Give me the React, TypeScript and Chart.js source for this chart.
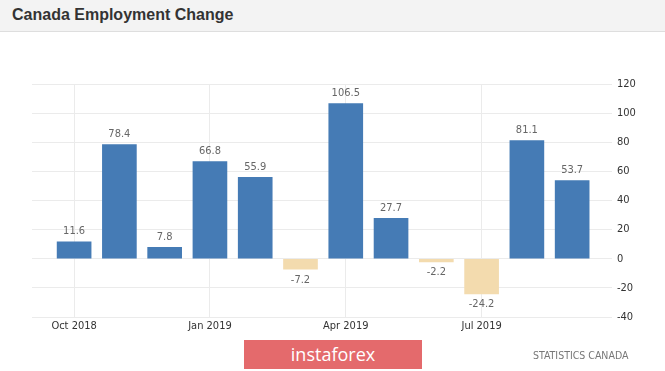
import React, { useEffect, useRef } from "react";
import { Chart, registerables } from "chart.js";

Chart.register(...registerables);

const months = [
  "Oct 2018", "Nov 2018", "Dec 2018", "Jan 2019", "Feb 2019", "Mar 2019",
  "Apr 2019", "May 2019", "Jun 2019", "Jul 2019", "Aug 2019", "Sep 2019",
];
const values = [11.6, 78.4, 7.8, 66.8, 55.9, -7.2, 106.5, 27.7, -2.2, -24.2, 81.1, 53.7];
const tickLabels = ["Oct 2018", "Jan 2019", "Apr 2019", "Jul 2019"];
const yTicks = [-40, -20, 0, 20, 40, 60, 80, 100, 120];

const NARROW = "'DejaVu Sans Condensed', 'Liberation Sans', sans-serif";

const valueLabelPlugin = {
  id: "valueLabels",
  afterDatasetsDraw(chart: any) {
    const ctx = chart.ctx;
    const meta = chart.getDatasetMeta(0);
    ctx.save();
    ctx.font = `11px ${NARROW}`;
    ctx.fillStyle = "#666";
    ctx.textAlign = "center";
    meta.data.forEach((el: any, i: number) => {
      const v = values[i];
      const txt = v.toFixed(1);
      if (v >= 0) {
        ctx.textBaseline = "bottom";
        ctx.fillText(txt, el.x, el.y - 5);
      } else {
        ctx.textBaseline = "top";
        ctx.fillText(txt, el.x, el.y + 5);
      }
    });
    ctx.restore();
  },
};

export default function App() {
  const ref = useRef<HTMLCanvasElement>(null);

  useEffect(() => {
    if (!ref.current) return;
    const tickIdx = tickLabels.map((l) => months.indexOf(l));
    const chart = new Chart(ref.current, {
      type: "bar",
      data: {
        datasets: [
          {
            data: values.map((v, i) => ({ x: i, y: v })),
            backgroundColor: values.map((v) => (v >= 0 ? "#457bb5" : "#f3dbae")),
            barThickness: 34,
            borderWidth: 0,
          },
        ],
      },
      options: {
        animation: false,
        responsive: false,
        maintainAspectRatio: false,
        layout: { padding: { left: 32, right: 0, top: 84, bottom: 34 } },
        plugins: {
          legend: { display: false },
          tooltip: { enabled: false },
        },
        scales: {
          x: {
            type: "linear",
            offset: false,
            min: -0.93,
            max: 11.88,
            afterBuildTicks: (scale: any) => {
              scale.ticks = tickIdx.map((v) => ({ value: v }));
            },
            afterFit: (scale: any) => {
              scale.height = 20;
            },
            ticks: {
              autoSkip: false,
              maxRotation: 0,
              padding: 3,
              color: "#333",
              font: { size: 11, family: NARROW },
              callback: (v: any) => months[Math.round(Number(v))] ?? "",
            },
            grid: { color: "#ebebeb", drawTicks: false, offset: false },
            border: { display: false },
          },
          y: {
            position: "right",
            min: -40,
            max: 120,
            afterBuildTicks: (scale: any) => {
              scale.ticks = yTicks.map((v) => ({ value: v }));
            },
            afterFit: (scale: any) => {
              scale.width = 53;
            },
            ticks: {
              padding: 5,
              color: "#333",
              font: { size: 11, family: NARROW },
            },
            grid: { color: "#ebebeb", drawTicks: false },
            border: { display: false },
          },
        },
      },
      plugins: [valueLabelPlugin],
    });
    return () => chart.destroy();
  }, []);

  return (
    <div
      style={{
        position: "absolute",
        left: 0,
        top: 0,
        width: 665,
        height: 371,
        background: "#fff",
        overflow: "hidden",
      }}
    >
      <canvas
        ref={ref}
        width={665}
        height={371}
        style={{ position: "absolute", left: 0, top: 0, width: 665, height: 371 }}
      />
      <div
        style={{
          position: "absolute",
          left: 0,
          top: 0,
          width: 665,
          height: 32,
          background: "#f3f3f3",
          borderBottom: "1px solid #dedede",
          boxSizing: "border-box",
        }}
      >
        <div
          style={{
            position: "absolute",
            left: 12,
            top: 5,
            font: "bold 16px 'Liberation Sans', Arial, sans-serif",
            color: "#333",
            lineHeight: "20px",
          }}
        >
          Canada Employment Change
        </div>
      </div>
      <div
        style={{
          position: "absolute",
          left: 244,
          top: 340,
          width: 178,
          height: 29,
          background: "#e46a6c",
          color: "#fff",
          font: "18px 'Open Sans', sans-serif",
          lineHeight: "29px",
          textAlign: "center",
        }}
      >
        instaforex
      </div>
      <div
        style={{
          position: "absolute",
          left: 533,
          top: 348,
          font: `10.5px ${NARROW}`,
          color: "#777",
          lineHeight: "14px",
          whiteSpace: "nowrap",
        }}
      >
        STATISTICS CANADA
      </div>
    </div>
  );
}
